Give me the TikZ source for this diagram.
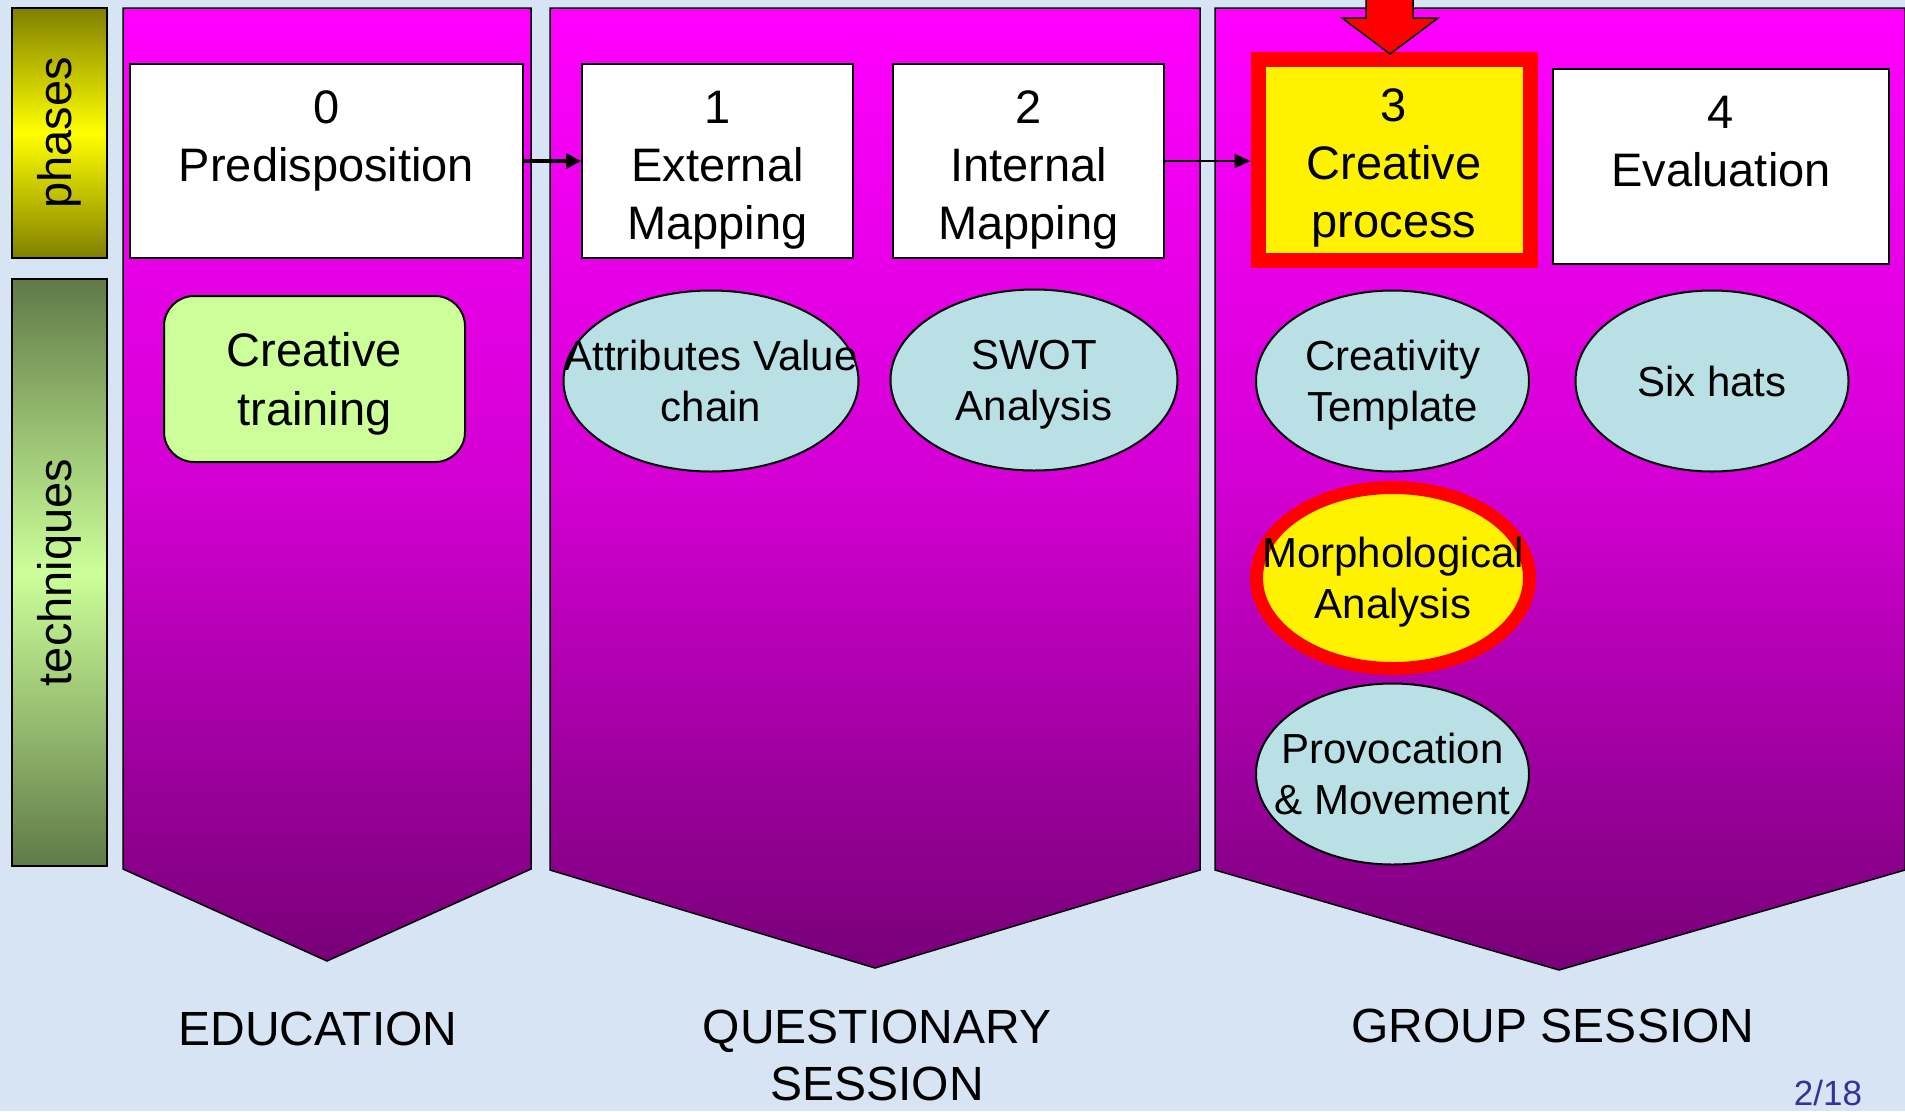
\documentclass[tikz,border=0pt]{standalone}
\usepackage{fontspec}
\setmainfont{Liberation Sans}
\usetikzlibrary{shapes.geometric,arrows.meta}

\definecolor{bgblue}{RGB}{214,228,244}
\definecolor{olivebar}{RGB}{128,128,0}
\definecolor{darkgreen}{RGB}{96,122,72}
\definecolor{lightgreen}{RGB}{204,255,153}
\definecolor{topmagenta}{RGB}{255,0,255}
\definecolor{midmagenta}{RGB}{210,0,210}
\definecolor{botpurple}{RGB}{120,0,120}
\definecolor{techblue}{RGB}{185,224,228}
\definecolor{pagenum}{RGB}{51,51,153}

\tikzset{
    column/.style={draw=black, line width=1.5pt, top color=topmagenta, bottom color=botpurple, middle color=midmagenta},
    sidebar/.style={draw=black, line width=2pt, minimum width=95pt, inner sep=0pt, font=\fontsize{47}{47}\selectfont},
    phase/.style={draw=black, line width=2pt, fill=white, align=center, inner sep=0pt, text height=156pt, text depth=0pt, font=\fontsize{47}{58}\selectfont},
    technique/.style={ellipse, draw=black, line width=2pt, fill=techblue, align=center, inner xsep=-60pt, inner ysep=0pt, text depth=0pt, minimum width=273pt, minimum height=181pt, font=\fontsize{42}{51}\selectfont},
    current/.style={draw=red, line width=15pt, fill=yellow},
    stage/.style={align=center, font=\fontsize{48}{57}\selectfont}
}

\begin{document}
\begin{tikzpicture}[x=1pt, y=-1pt]
            \useasboundingbox (0, 0) rectangle (1905, 1111);
            \fill[bgblue] (0, 0) rectangle (1905, 1111);

            % the three sessions
            \draw[column] (123, 8) -- (531, 8) -- (531, 869) -- (327, 961) -- (123, 869) -- cycle;
            \draw[column] (550, 8) -- (1200, 8) -- (1200, 870) -- (875, 968) -- (550, 870) -- cycle;
            \draw[column] (1215, 8) -- (1905, 8) -- (1905, 870) -- (1559, 970) -- (1215, 870) -- cycle;

            \node[sidebar, minimum height=250pt, top color=olivebar, bottom color=olivebar, middle color=yellow] (phases) at (59.5, 133) {\rotatebox{90}{phases}};
            \node[sidebar, minimum height=587pt, top color=darkgreen, bottom color=darkgreen, middle color=lightgreen] (techniques) at (59.5, 572.5) {\rotatebox{90}{techniques}};

            % phases
            \node[phase, minimum width=393pt, minimum height=194pt] (p0) at (326.5, 161) {0\\Predisposition\\~};
            \node[phase, minimum width=271pt, minimum height=194pt] (p1) at (717.5, 161) {1\\External\\Mapping};
            \node[phase, minimum width=271pt, minimum height=194pt] (p2) at (1028.5, 161) {2\\Internal\\Mapping};
            \node[phase, current, minimum width=272pt, minimum height=201pt] (p3) at (1394, 159.5) {3\\Creative\\process};
            \node[phase, minimum width=336pt, minimum height=195pt] (p4) at (1721, 166.5) {4\\Evaluation\\~};

            \draw[line width=4pt, -{Triangle[length=15pt, width=15pt]}] (p0) to (p1);
            \draw[line width=2pt, -{Triangle[length=16pt, width=14pt]}] (p2.east) to (p2.east -| p3.west);

            \draw[line width=1.5pt, fill=red] (1366, -10) -- (1366, 18) -- (1342, 18) -- (1390, 54) -- (1438, 18) -- (1413, 18) -- (1413, -10) -- cycle;

            % techniques
            \node[draw=black, line width=2pt, fill=lightgreen, rounded corners=30pt, minimum width=301pt, minimum height=166pt, align=center, text depth=0pt, font=\fontsize{47}{59}\selectfont] (t0) at (314.5, 379) {Creative\\training};
            \node[technique, minimum width=295pt] (t1) at (711, 381) {Attributes Value\\chain};
            \node[technique, minimum width=287pt] (t2) at (1034, 380) {SWOT\\Analysis};
            \node[technique] (t3) at (1392.5, 381) {Creativity\\Template};
            \node[technique] (t4) at (1712, 381) {Six hats};
            \node[technique, current, line width=13pt] (t5) at (1393, 578) {Morphological\\Analysis};
            \node[technique] (t6) at (1392.5, 774) {Provocation\\\& Movement};

            \node[stage] (edu) at (318, 1029) {EDUCATION};
            \node[stage] (quest) at (877, 1055) {QUESTIONARY\\SESSION};
            \node[stage] (group) at (1553, 1026) {GROUP SESSION};
            \node[text=pagenum, font=\fontsize{35}{35}\selectfont] (page) at (1828, 1093) {2/18};
        \end{tikzpicture}
\end{document}
